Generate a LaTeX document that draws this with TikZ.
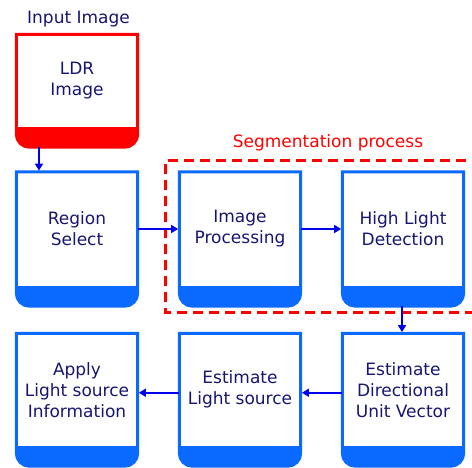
\documentclass[tikz,border=0pt]{standalone}
\usepackage{fontspec}
\setmainfont{DejaVu Sans}
\usetikzlibrary{arrows.meta}

\definecolor{stageblue}{HTML}{0A6AFF}
\definecolor{inputred}{HTML}{FF0000}
\definecolor{flowblue}{HTML}{0000F0}
\definecolor{labelnavy}{HTML}{161670}

% Outline with rounded bottom corners plus the solid band under the white area
\newcommand{\drawstage}[2]{%
  \fill[#2] (#1.south west) -- ([yshift=-7pt]#1.south west)
    arc[start angle=180,end angle=270,radius=13pt]
    -- ([shift={(-13pt,-20pt)}]#1.south east)
    arc[start angle=270,end angle=360,radius=13pt]
    -- (#1.south east) -- cycle;
  \draw[#2, line width=3pt] (#1.north west) -- ([yshift=-7pt]#1.south west)
    arc[start angle=180,end angle=270,radius=13pt]
    -- ([shift={(-13pt,-20pt)}]#1.south east)
    arc[start angle=270,end angle=360,radius=13pt]
    -- (#1.north east) -- cycle;
}

\begin{document}
\begin{tikzpicture}[x=1pt,y=-1pt,
  stage/.style={minimum width=121pt, inner sep=0pt, align=center,
    text=labelnavy, font=\fontsize{17}{21}\selectfont},
  row2/.style={minimum height=114pt},
  row3/.style={minimum height=112.5pt},
  flow/.style={draw=flowblue, line width=1.6pt,
    -{Triangle[length=7pt,width=8pt]}, shorten >=1.2pt},
  caption/.style={anchor=base, font=\fontsize{17}{21}\selectfont}]
\useasboundingbox (0,0) rectangle (472,468);

% white areas of the stages (the band hangs 20pt below each)
\node[stage, minimum height=92.5pt] (ldr) at (77,80.75) {LDR\\Image};
\node[stage, row2] (region)    at (77,229)  {Region\\Select};
\node[stage, row2] (improc)    at (240,229) {Image\\Processing};
\node[stage, row2] (highlight) at (403,229) {High Light\\Detection};
\node[stage, row3] (direction) at (403,389.75) {Estimate\\Directional\\Unit Vector};
\node[stage, row3] (lightsrc)  at (240,389.75) {Estimate\\Light source};
\node[stage, row3] (apply)     at (77,389.75)  {Apply\\Light source\\Information};

\drawstage{ldr}{inputred}
\foreach \n in {region,improc,highlight,direction,lightsrc,apply}{\drawstage{\n}{stageblue}}

% captions
\node[caption, text=labelnavy] (inputcap) at (78.5,24) {Input Image};
\node[caption, text=inputred] (segcap) at (328,148) {Segmentation process};

% segmentation frame, open to the right
\draw[inputred, line width=3pt, dash pattern=on 10pt off 6pt]
  (482,161) -- (165.3,161) -- (165.3,313) -- (482,313);

% flow
\draw[flow] ([shift={(-38pt,-20pt)}]ldr.south) -- ([xshift=-38pt]region.north);
\draw[flow] (region.east) -- (improc.west);
\draw[flow] (improc.east) -- (highlight.west);
\draw[flow] ([shift={(-1pt,-20pt)}]highlight.south) -- ([xshift=-1pt]direction.north);
\draw[flow] ([yshift=-3pt]direction.west) -- ([yshift=-3pt]lightsrc.east);
\draw[flow] ([yshift=-3pt]lightsrc.west) -- ([yshift=-3pt]apply.east);
\end{tikzpicture}
\end{document}
